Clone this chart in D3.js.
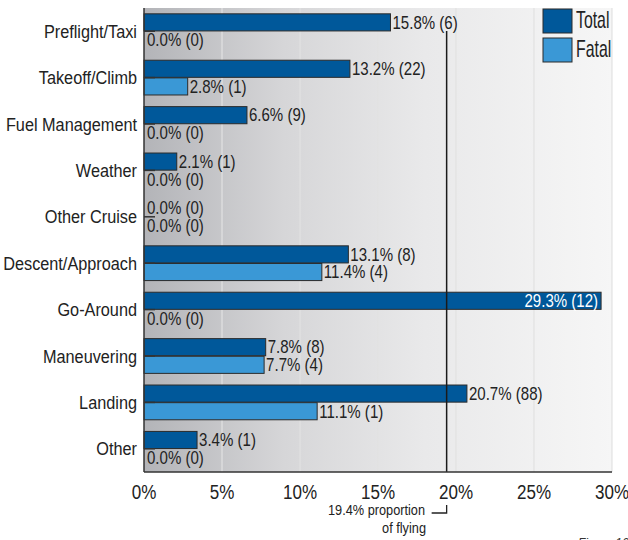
<!DOCTYPE html>
<html>
<head>
<meta charset="utf-8">
<script src="https://cdn.jsdelivr.net/npm/d3@7"></script>
<style>
  html, body { margin: 0; padding: 0; background: #ffffff; }
  svg { display: block; font-family: "Liberation Sans", Arial, Helvetica, sans-serif; }
</style>
</head>
<body>
<svg id="chart" width="628" height="540"></svg>
<script>
const categories = ["Preflight/Taxi", "Takeoff/Climb", "Fuel Management", "Weather", "Other Cruise",
  "Descent/Approach", "Go-Around", "Maneuvering", "Landing", "Other"];
const seriesNames = ["Total", "Fatal"];
const totalPct = [15.8, 13.2, 6.6, 2.1, 0.0, 13.1, 29.3, 7.8, 20.7, 3.4];
const totalCount = [6, 22, 9, 1, 0, 8, 12, 8, 88, 1];
const fatalPct = [0.0, 2.8, 0.0, 0.0, 0.0, 11.4, 0.0, 7.7, 11.1, 0.0];
const fatalCount = [0, 1, 0, 0, 0, 4, 0, 4, 1, 0];
const xTicks = [0, 5, 10, 15, 20, 25, 30];
const proportionOfFlying = 19.4;

(function () {
const colors = { Total: "#00589a", Fatal: "#3a98d6" };

const svg = d3.select("#chart");
const pL = 144, pR = 612, pT = 8, pB = 472;

const x = d3.scaleLinear().domain([0, 30]).range([pL, pR]);
const y = d3.scaleBand().domain(categories).range([pT, pB]).padding(0);
const ySub = d3.scaleBand().domain(seriesNames).range([0, y.bandwidth()])
  .paddingInner(0.03).paddingOuter(0.33);

// background gradient
const defs = svg.append("defs");
const grad = defs.append("linearGradient").attr("id", "bg").attr("x1", "0%").attr("x2", "100%");
grad.append("stop").attr("offset", "0%").attr("stop-color", "#b3b4b8");
grad.append("stop").attr("offset", "30%").attr("stop-color", "#d6d6d8");
grad.append("stop").attr("offset", "60%").attr("stop-color", "#e9e9ea");
grad.append("stop").attr("offset", "100%").attr("stop-color", "#f6f6f6");
svg.append("rect").attr("x", pL).attr("y", pT).attr("width", pR - pL).attr("height", pB - pT)
  .attr("fill", "url(#bg)");

// gridlines
svg.append("g").selectAll("line").data(xTicks.filter(t => t > 0)).join("line")
  .attr("x1", d => x(d)).attr("x2", d => x(d)).attr("y1", pT).attr("y2", pB)
  .attr("stroke", "#e2e2e2").attr("stroke-width", 1.2);

// data rows
const rows = categories.map((c, i) => ({
  cat: c,
  bars: [
    { s: "Total", v: totalPct[i], n: totalCount[i] },
    { s: "Fatal", v: fatalPct[i], n: fatalCount[i] }
  ]
}));

const rowG = svg.append("g").selectAll("g").data(rows).join("g")
  .attr("transform", d => `translate(0,${y(d.cat)})`);

rowG.selectAll("rect").data(d => d.bars.filter(b => b.v > 0)).join("rect")
  .attr("x", x(0)).attr("y", b => ySub(b.s))
  .attr("width", b => x(b.v) - x(0)).attr("height", ySub.bandwidth())
  .attr("fill", b => colors[b.s]).attr("stroke", "#2b2b2b").attr("stroke-width", 1);

// inward tick marks at category centre
rowG.append("line")
  .attr("x1", x(0)).attr("x2", x(0) + 11)
  .attr("y1", y.bandwidth() / 2).attr("y2", y.bandwidth() / 2)
  .attr("stroke", "#333").attr("stroke-width", 1.5);

// value labels
rowG.selectAll("text.val").data(d => d.bars).join("text")
  .attr("class", "val")
  .attr("transform", b => {
    const tx = b.v > 27 ? x(b.v) - 3 : (b.v > 0 ? x(b.v) + 2 : x(0) + 3);
    const ty = ySub(b.s) + ySub.bandwidth() / 2;
    return `translate(${tx},${ty}) scale(0.86,1)`;
  })
  .attr("dy", "0.36em")
  .attr("text-anchor", b => b.v > 27 ? "end" : "start")
  .attr("font-size", 17.5)
  .attr("fill", b => b.v > 27 ? "#ffffff" : "#222")
  .text(b => `${b.v.toFixed(1)}% (${b.n})`);

// proportion of flying line
svg.append("line")
  .attr("x1", x(proportionOfFlying)).attr("x2", x(proportionOfFlying))
  .attr("y1", pT + 23).attr("y2", pB)
  .attr("stroke", "#1a1a1a").attr("stroke-width", 1.5);

// axes lines
svg.append("line").attr("x1", pL).attr("x2", pL).attr("y1", pT).attr("y2", pB)
  .attr("stroke", "#333").attr("stroke-width", 1.5);
svg.append("line").attr("x1", pL).attr("x2", pR).attr("y1", pB).attr("y2", pB)
  .attr("stroke", "#333").attr("stroke-width", 1.5);

// category labels
svg.append("g").selectAll("text").data(categories).join("text")
  .attr("transform", d => `translate(137,${y(d) + y.bandwidth() / 2}) scale(0.88,1)`)
  .attr("dy", "0.36em")
  .attr("text-anchor", "end").attr("font-size", 18.5).attr("fill", "#222")
  .text(d => d);

// x tick labels
svg.append("g").selectAll("text").data(xTicks).join("text")
  .attr("transform", d => `translate(${x(d)},499) scale(0.83,1)`)
  .attr("text-anchor", "middle").attr("font-size", 20.5).attr("fill", "#222")
  .text(d => d + "%");

// annotation
const ax = x(proportionOfFlying);
svg.append("text").attr("transform", "translate(425,515) scale(0.85,1)").attr("text-anchor", "end")
  .attr("font-size", 15).attr("fill", "#222").text("19.4% proportion");
svg.append("text").attr("transform", "translate(426,533) scale(0.85,1)").attr("text-anchor", "end")
  .attr("font-size", 15).attr("fill", "#222").text("of flying");
svg.append("path")
  .attr("d", `M${ax - 15},513 H${ax} V505`)
  .attr("fill", "none").attr("stroke", "#222").attr("stroke-width", 1.3);

// legend
const leg = svg.append("g").attr("transform", "translate(543,9)");
seriesNames.forEach((s, i) => {
  leg.append("rect").attr("x", 0).attr("y", i * 29).attr("width", 29).attr("height", 24)
    .attr("fill", colors[s]).attr("stroke", "#2b2b2b").attr("stroke-width", 1);
  leg.append("text").attr("transform", `translate(33,${i * 29 + 19}) scale(0.66,1)`)
    .attr("font-size", 24).attr("fill", "#222").text(s);
});

// cut-off figure caption
svg.append("text").attr("x", 578).attr("y", 546.5).attr("font-size", 12)
  .attr("font-style", "italic").attr("fill", "#333").text("Figure 16");
})();
</script>
</body>
</html>
